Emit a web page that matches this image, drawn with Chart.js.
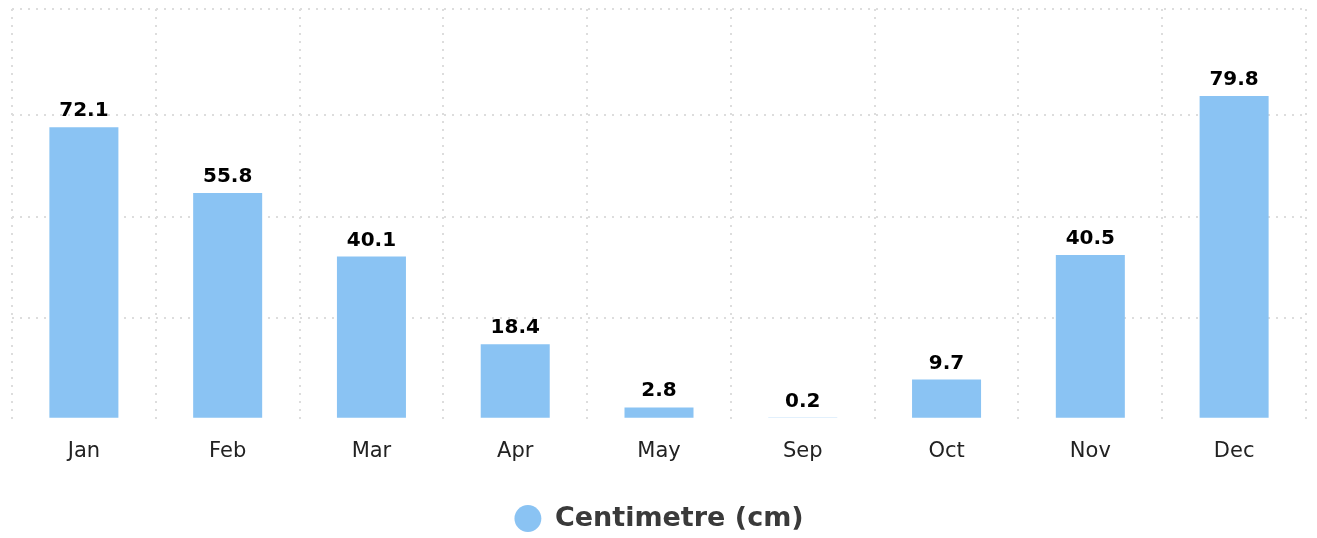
<!DOCTYPE html>
<html>
<head>
<meta charset="utf-8">
<script src="https://cdn.jsdelivr.net/npm/chart.js@4/dist/chart.umd.min.js"></script>
<style>
  html, body { margin: 0; padding: 0; background: #ffffff; }
  #wrap { width: 1317px; height: 538px; }
</style>
</head>
<body>
<div id="wrap"><canvas id="c" width="1317" height="538"></canvas></div>
<script>
const categories = ['Jan', 'Feb', 'Mar', 'Apr', 'May', 'Sep', 'Oct', 'Nov', 'Dec'];
const centimetreValues = [72.1, 55.8, 40.1, 18.4, 2.8, 0.2, 9.7, 40.5, 79.8];
const seriesName = 'Centimetre (cm)';
const yTickValues = [0, 25, 50, 75, 101.3];

const valueLabels = {
  id: 'valueLabels',
  afterDatasetsDraw(chart) {
    const ctx = chart.ctx;
    ctx.save();
    ctx.font = 'bold 20px "DejaVu Sans"';
    ctx.fillStyle = '#000000';
    ctx.textAlign = 'center';
    ctx.textBaseline = 'alphabetic';
    chart.getDatasetMeta(0).data.forEach((bar, i) => {
      const v = chart.data.datasets[0].data[i];
      ctx.fillText(v.toFixed(1), bar.x, bar.y - 11);
    });
    ctx.restore();
  }
};

new Chart(document.getElementById('c'), {
  type: 'bar',
  data: {
    labels: categories,
    datasets: [{
      label: seriesName,
      data: centimetreValues,
      backgroundColor: '#8AC3F3',
      borderWidth: 0,
      categoryPercentage: 1,
      barPercentage: 0.48
    }]
  },
  options: {
    responsive: false,
    animation: false,
    devicePixelRatio: 1,
    layout: { padding: { left: 12, right: 11, top: 9, bottom: -4 } },
    plugins: {
      tooltip: { enabled: false },
      legend: {
        position: 'bottom',
        labels: {
          usePointStyle: true,
          pointStyle: 'circle',
          boxWidth: 27,
          boxHeight: 19,
          padding: 10,
          color: '#3a3a3a',
          font: { family: 'DejaVu Sans', size: 27, weight: 'bold' }
        }
      }
    },
    scales: {
      x: {
        offset: true,
        border: { display: false, dash: [2, 6] },
        afterFit(axis) { axis.height += 11; },
        grid: {
          offset: true,
          drawTicks: false,
          color: '#dddddd',
          lineWidth: 2
        },
        ticks: {
          color: '#222222',
          padding: 20,
          font: { family: 'DejaVu Sans', size: 21 }
        }
      },
      y: {
        min: 0,
        max: 101.3,
        border: { display: false, dash: [2, 6] },
        afterBuildTicks(axis) { axis.ticks = yTickValues.map(v => ({ value: v })); },
        grid: {
          drawTicks: false,
          lineWidth: 2,
          color: (c) => (c.tick && c.tick.value === 0 ? 'rgba(0,0,0,0)' : '#dddddd')
        },
        ticks: { display: false }
      }
    }
  },
  plugins: [valueLabels]
});
</script>
</body>
</html>
